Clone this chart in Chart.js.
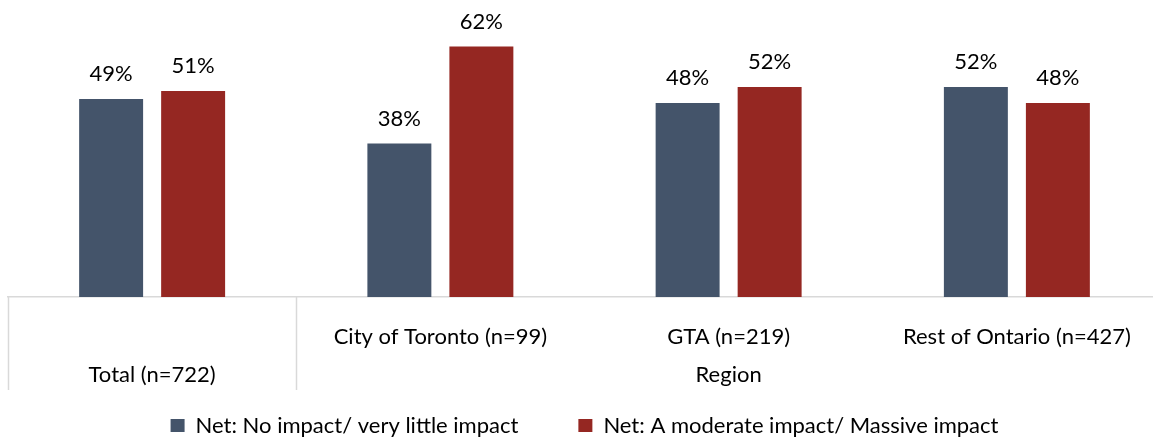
<!DOCTYPE html>
<html>
<head>
<meta charset="utf-8">
<script src="https://cdn.jsdelivr.net/npm/chart.js@4/dist/chart.umd.min.js"></script>
<style>
  html, body { margin: 0; padding: 0; overflow: hidden; background: #fff; }
  #wrap { width: 1161px; height: 437px; }
</style>
</head>
<body>
<div id="wrap"><canvas id="barChart" width="1161" height="437"></canvas></div>
<script>
const categories = [
  "Total (n=722)",
  "City of Toronto (n=99)",
  "GTA (n=219)",
  "Rest of Ontario (n=427)",
];
const groupLabel = "Region";
const seriesNames = [
  "Net: No impact/ very little impact",
  "Net: A moderate impact/ Massive impact",
];
const noImpact = [49, 38, 48, 52];
const moderateImpact = [51, 62, 52, 48];
const seriesColors = ["#44546A", "#952722"];

const FONT = "Lato";
const FONT_SIZE = 22;
const lineColor = "#d9d9d9";

Chart.defaults.font.family = FONT;
Chart.defaults.color = "#000";

// value labels above the bars + the two-row category table under the axis
const tablePlugin = {
  id: "tablePlugin",
  afterDatasetsDraw(chart) {
    const ctx = chart.ctx;
    ctx.save();
    ctx.font = `${FONT_SIZE}px ${FONT}`;
    ctx.fillStyle = "#000";
    ctx.textAlign = "center";
    ctx.textBaseline = "middle";
    chart.data.datasets.forEach((ds, i) => {
      chart.getDatasetMeta(i).data.forEach((bar, j) => {
        ctx.fillText(ds.data[j] + "%", bar.x, bar.y - 25);
      });
    });
    ctx.restore();
  },
  afterDraw(chart) {
    const ctx = chart.ctx;
    const x = chart.scales.x;
    const top = x.top;
    const bottom = top + 93;
    const split = (x.getPixelForValue(0) + x.getPixelForValue(1)) / 2;
    ctx.save();
    ctx.strokeStyle = lineColor;
    ctx.lineWidth = 1.5;
    [x.left, split].forEach((px) => {
      ctx.beginPath();
      ctx.moveTo(Math.round(px) + 0.5, top);
      ctx.lineTo(Math.round(px) + 0.5, bottom);
      ctx.stroke();
    });
    // second row: Total spans both rows, Region groups the rest
    ctx.font = `${FONT_SIZE}px ${FONT}`;
    ctx.fillStyle = "#000";
    ctx.textAlign = "center";
    ctx.textBaseline = "middle";
    ctx.fillText(categories[0], x.getPixelForValue(0), top + 78);
    ctx.fillText(groupLabel, (split + x.right) / 2, top + 78);
    ctx.restore();
  },
};

new Chart(document.getElementById("barChart"), {
  type: "bar",
  data: {
    labels: categories,
    datasets: [
      {
        label: seriesNames[0],
        data: noImpact,
        backgroundColor: seriesColors[0],
        categoryPercentage: 0.569,
        barPercentage: 0.78,
      },
      {
        label: seriesNames[1],
        data: moderateImpact,
        backgroundColor: seriesColors[1],
        categoryPercentage: 0.569,
        barPercentage: 0.78,
      },
    ],
  },
  options: {
    responsive: false,
    animation: false,
    layout: {
      padding: { left: 8, right: 0, top: 0, bottom: 0 },
    },
    scales: {
      y: {
        display: false,
        min: 0,
        max: 73.5,
      },
      x: {
        grid: { display: false },
        border: { display: true, color: lineColor, width: 1.5 },
        ticks: {
          font: { size: FONT_SIZE, lineHeight: "26px" },
          color: "#000",
          padding: 19,
          maxRotation: 0,
          autoSkip: false,
          callback: (value, index) => (index === 0 ? "" : categories[index]),
        },
        afterFit: (scale) => {
          scale.height = 57.5;
        },
      },
    },
    plugins: {
      legend: {
        position: "bottom",
        maxHeight: 82.5,
        labels: {
          boxWidth: 14,
          boxHeight: 13,
          padding: 60,
          color: "#000",
          font: { size: FONT_SIZE },
        },
      },
      tooltip: { enabled: false },
    },
  },
  plugins: [tablePlugin],
});
</script>
</body>
</html>
